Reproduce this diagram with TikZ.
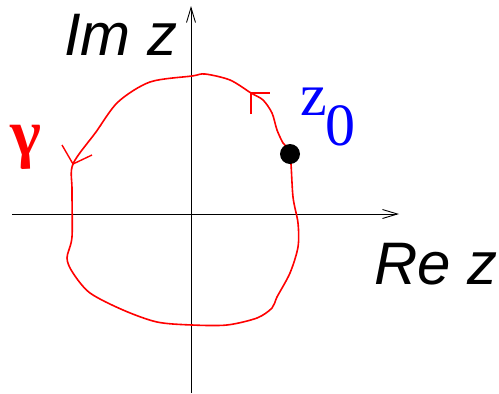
\documentclass[tikz,border=0pt]{standalone}
\usepackage{fontspec}
\usetikzlibrary{arrows.meta}
\newfontfamily\sansit{Liberation Sans}
\newfontfamily\serifR{Liberation Serif}
\begin{document}
\begin{tikzpicture}[x=1pt,y=-1pt,
  axis/.style={line width=1pt,-{Straight Barb[length=15pt,width=9pt,line width=0.9pt]}},
  curve/.style={red,line width=1.6pt},
  barb/.style={red,line width=1.4pt},
  axlabel/.style={font=\sansit\fontsize{60}{60}\selectfont\itshape,anchor=base west,inner sep=0pt},
  seriflabel/.style={font=\serifR\fontsize{60}{60}\selectfont,anchor=base west,inner sep=0pt}]
\useasboundingbox (0,0) rectangle (499,394);
% axes
\coordinate (xs) at (12,214);
\coordinate (xe) at (399,214);
\coordinate (ys) at (191,393);
\coordinate (ye) at (191,6);
\draw[axis] (xs) -- (xe);
\draw[axis] (ys) -- (ye);
% contour
\draw[curve] plot[smooth cycle,tension=0.5] coordinates {
 (290,154) (283,143) (277,130) (272,113) (263,100) (251,93) (230,80)
 (205,74) (192,76) (150,82) (118,102) (96,132) (73,164) (72,190) (72,237)
 (67,258) (73,273) (90,293) (123,310) (157,322) (192,325) (227,325)
 (257,318) (272,308) (277,297) (290,273) (298,247) (298,223) (293,197)};
% arrowheads on contour
\coordinate (t1) at (251,93);
\draw[barb] (251,114) -- (t1) -- (270,93);
\coordinate (t2) at (73,164);
\draw[barb] (62,145) -- (t2) -- (92,155);
% point z0
\node[circle,fill=black,minimum size=20pt,inner sep=0pt] (dot) at (290,154) {};
% labels
\node[axlabel] (im) at (64,55) {Im z};
\node[axlabel] (re) at (374,284) {Re z};
\node[seriflabel,red,font=\serifR\bfseries\fontsize{66}{66}\selectfont] (gam) at (10,155) {γ};
\node[seriflabel,blue] (z0) at (300,115) {z\kern-1pt\raisebox{-30pt}{0}};
\end{tikzpicture}
\end{document}
